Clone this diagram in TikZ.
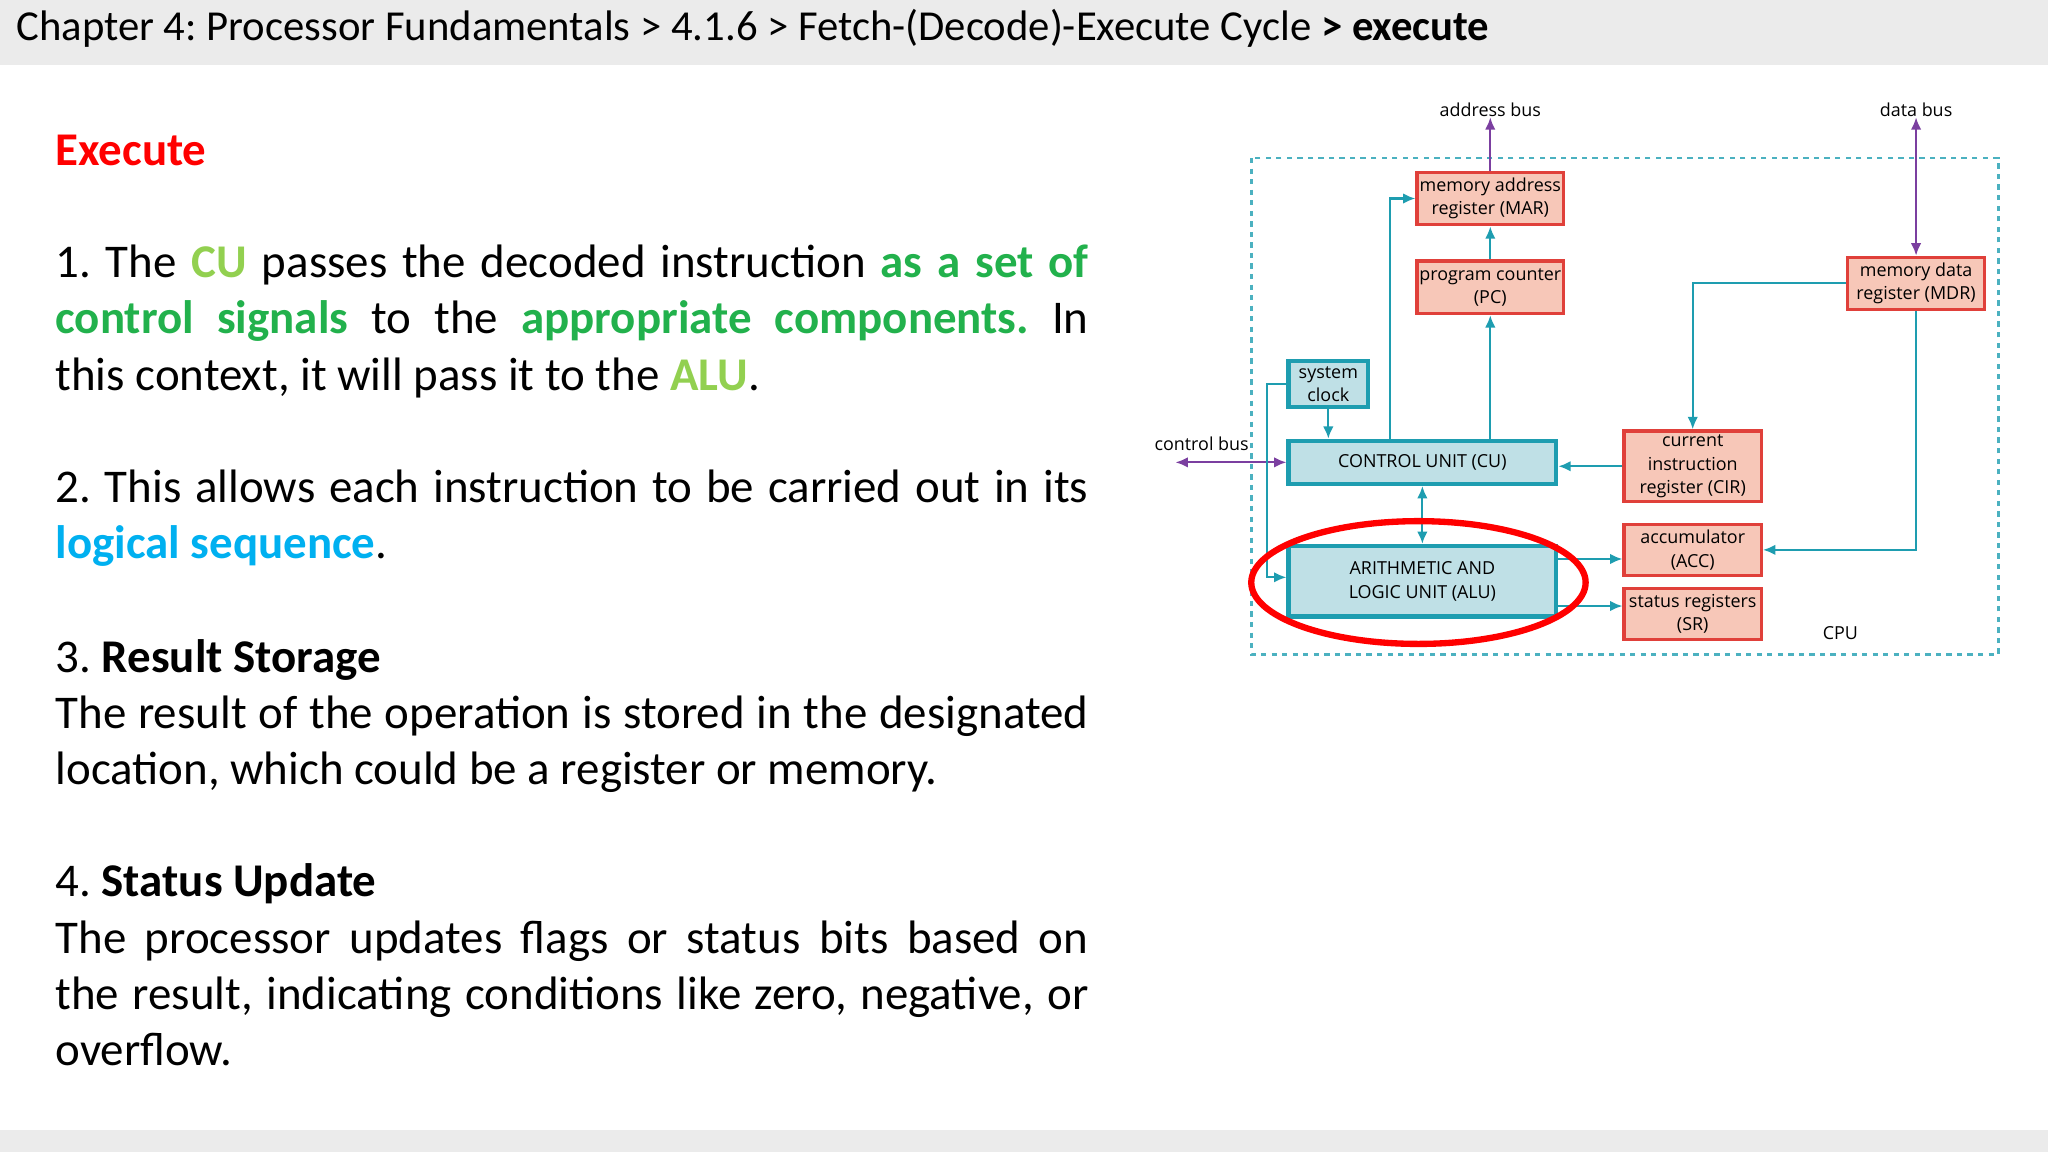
\documentclass[tikz,border=0pt]{standalone}
\usepackage{fontspec}
\setmainfont{Carlito}
\newfontfamily\diag{Open Sans}
\usetikzlibrary{arrows.meta}
\definecolor{hdr}{HTML}{EBEBEB}
\definecolor{teal}{HTML}{1E9DB0}
\definecolor{boxb}{HTML}{BFE0E6}
\definecolor{regf}{HTML}{F7C7B8}
\definecolor{regd}{HTML}{E0403A}
\definecolor{purp}{HTML}{7B3FA0}
\definecolor{gdark}{HTML}{22B14C}
\definecolor{glight}{HTML}{92D050}
\definecolor{cyanb}{HTML}{00B0F0}
\frenchspacing
\hyphenpenalty=10000
\exhyphenpenalty=10000
\tikzset{
  body/.style={anchor=north west, text width=10.33cm, align=justify, inner sep=0pt, font=\fontsize{13.35}{16}\selectfont},
  reg/.style={draw=regd, fill=regf, line width=1pt, inner sep=0pt, align=center, font=\diag\fontsize{5.1}{6.7}\selectfont},
  cub/.style={draw=teal, fill=boxb, line width=1.2pt, inner sep=0pt, align=center, font=\diag\fontsize{5.1}{6.7}\selectfont},
  lbl/.style={font=\diag\fontsize{5.1}{6.7}\selectfont, inner sep=0pt},
  tl/.style={teal, line width=0.6pt, -{Latex[length=3.5pt,width=3pt]}},
  tl2/.style={teal, line width=0.6pt, {Latex[length=3.5pt,width=3pt]}-{Latex[length=3.5pt,width=3pt]}},
  pl/.style={purp, line width=0.6pt, -{Latex[length=3.5pt,width=3pt]}},
  pl2/.style={purp, line width=0.6pt, {Latex[length=3.5pt,width=3pt]}-{Latex[length=3.5pt,width=3pt]}},
}
\begin{document}
\begin{tikzpicture}[x=0.01306cm,y=-0.01306cm]
\useasboundingbox (0,0) rectangle (1568,882);
\fill[hdr] (0,0) rectangle (1568,50);
\fill[hdr] (0,865) rectangle (1568,882);
\node[anchor=base west, inner sep=0pt, font=\fontsize{12.15}{14}\selectfont] (hd) at (12,31) {Chapter 4: Processor Fundamentals > 4.1.6 > Fetch-(Decode)-Execute Cycle \textbf{> execute}};
\node[anchor=base west, inner sep=0pt, font=\fontsize{13.35}{16}\bfseries\selectfont, text=red] (ex) at (42,127) {Execute};
\node[body] (p1) at (42,187) {1. The \textbf{\color{glight}CU} passes the decoded instruction \textbf{\color{gdark}as a set of}\linebreak\textbf{\color{gdark}control signals} to the \textbf{\color{gdark}appropriate components.} In\linebreak this context, it will pass it to the \textbf{\color{glight}ALU}.};
\node[body] (p2) at (42,359) {2. This allows each instruction to be carried out in its\linebreak\textbf{\color{cyanb}logical sequence}.};
\node[body] (p3) at (42,489) {3. \textbf{Result Storage}\newline The result of the operation is stored in the designated location, which could be a register or memory.};
\node[body] (p4) at (42,661) {4. \textbf{Status Update}\newline The processor updates flags or status bits based on\linebreak the result, indicating conditions like zero, negative, or\linebreak overflow.};
% diagram
\draw[teal!80, line width=0.7pt, dash pattern=on 1.5pt off 1.5pt] (958,121) rectangle (1530,501);
\node[reg, minimum width=112*0.01306cm, minimum height=40*0.01306cm] (mar) at (1141,152) {memory address\\register (MAR)};
\node[reg, minimum width=112*0.01306cm, minimum height=40*0.01306cm] (pc) at (1141,220) {program counter\\(PC)};
\node[reg, minimum width=105*0.01306cm, minimum height=40*0.01306cm] (mdr) at (1467,217) {memory data\\register (MDR)};
\node[cub, minimum width=61*0.01306cm, minimum height=35*0.01306cm] (clk) at (1017,294) {system\\clock};
\node[cub, minimum width=205*0.01306cm, minimum height=33*0.01306cm] (cu) at (1089,354) {CONTROL UNIT (CU)};
\node[reg, minimum width=105*0.01306cm, minimum height=54*0.01306cm] (cir) at (1296,357) {current\\instruction\\register (CIR)};
\node[reg, minimum width=105*0.01306cm, minimum height=39*0.01306cm] (acc) at (1296,421) {accumulator\\(ACC)};
\node[reg, minimum width=105*0.01306cm, minimum height=39*0.01306cm] (sr) at (1296,470) {status registers\\(SR)};
\node[cub, minimum width=205*0.01306cm, minimum height=54*0.01306cm] (alu) at (1089,445) {ARITHMETIC AND\\LOGIC UNIT (ALU)};
\node[lbl] (ab) at (1141,84) {address bus};
\node[lbl] (db) at (1467,84) {data bus};
\node[lbl] (cb) at (920,340) {control bus};
\node[lbl] (cpu) at (1409,485) {CPU};
\coordinate (cbl) at (900,354);
\draw[pl] (mar.north) -- (ab.south);
\draw[pl2] (db.south) -- (mdr.north);
\draw[pl2] (cbl) -- (cu.west);
\draw[tl] (cu.north -| 1064,0) |- (mar.west);
\draw[tl] (cu.north -| pc) -- (pc.south);
\draw[tl] (pc) -- (mar);
\draw[tl] (mdr.west) -| (cir.north);
\draw[tl] (cir.west) -- (cu.east |- cir.west);
\draw[tl] (mdr.south) |- (acc.east);
\draw[tl2] (cu.south) -- (alu.north);
\draw[tl] (alu.east |- 0,428) -- (acc.west |- 0,428);
\draw[tl] (alu.east |- 0,464) -- (sr.west |- 0,464);
\draw[tl] (clk.south) -- (cu.north -| clk);
\draw[tl] (clk.west) -- (970,294) |- (alu.west |- 0,442);
\draw[red, line width=1.8pt] (1086,446) ellipse [x radius=128, y radius=47];
\end{tikzpicture}
\end{document}
